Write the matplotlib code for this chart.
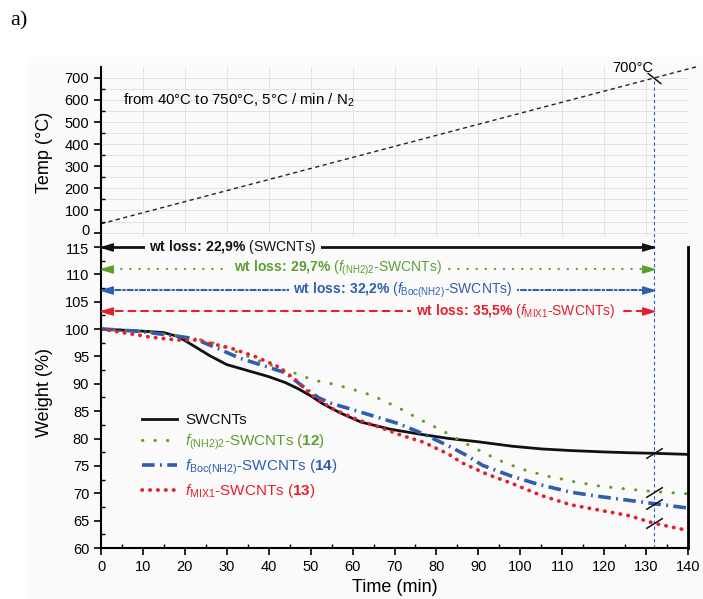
import numpy as np
import matplotlib
matplotlib.use("Agg")
from matplotlib import pyplot as plt
from matplotlib.path import Path
from matplotlib.ticker import MultipleLocator
from matplotlib.transforms import ScaledTranslation

plt.rcParams["font.family"] = "Liberation Sans"
plt.rcParams["mathtext.fontset"] = "custom"
plt.rcParams["mathtext.rm"] = "Liberation Sans"
plt.rcParams["mathtext.it"] = "Liberation Sans:italic"
plt.rcParams["mathtext.bf"] = "Liberation Sans:bold"

# temperature programme: 40 -> 750 °C at 5 °C/min
temp_time = [0, 142]
temp_val = [40, 750]
t_end = 132  # time at which 700 °C is reached

# TGA curves (time in min, weight in %)
t_sw = [0, 5, 10, 15, 18, 20, 23, 26, 30, 35, 40, 44, 47, 50, 53, 57, 62, 69,
        76, 83, 90, 98, 105, 112, 120, 126, 132, 140]
w_sw = [100, 99.8, 99.6, 99.35, 98.7, 97.9, 96.5, 95.1, 93.5, 92.4, 91.3, 90.2,
        89.1, 87.8, 86.3, 84.7, 83.0, 81.7, 80.8, 80.0, 79.4, 78.6, 78.1, 77.8,
        77.55, 77.4, 77.3, 77.1]

t_nh2 = [0, 5, 10, 15, 20, 24, 28, 33, 38, 43, 46, 51, 55, 59, 63, 66, 71, 76,
         81, 86, 90, 95, 100, 106, 113, 119, 125, 132, 140]
w_nh2 = [100, 99.8, 99.5, 99.1, 98.6, 98.0, 97.2, 95.6, 94.1, 92.7, 92.0, 90.6,
         90.0, 89.2, 88.3, 87.4, 85.6, 83.5, 81.6, 79.5, 77.9, 76.0, 74.5, 73.2,
         72.1, 71.3, 70.8, 70.3, 69.9]

t_boc = [0, 5, 10, 16, 20, 23, 28, 33, 40, 44, 48, 52, 55, 59, 65, 71, 77, 83,
         87, 91, 98, 104, 112, 119, 126, 132, 140]
w_boc = [100, 99.8, 99.5, 98.9, 98.5, 98.0, 96.4, 94.7, 93.0, 92.0, 89.6, 87.4,
         86.4, 85.5, 84.1, 82.7, 80.8, 78.6, 77.0, 75.1, 73.1, 71.7, 70.2, 69.4,
         68.7, 68.1, 67.3]

t_mix = [0, 4, 8, 12, 18, 23, 26, 31, 37, 42, 46, 50, 55, 61, 67, 72, 77, 83,
         86, 92, 98, 105, 112, 119, 126, 132, 140]
w_mix = [100, 99.5, 99.0, 98.5, 98.0, 98.0, 97.4, 96.5, 94.9, 93.2, 91.0, 88.1,
         85.5, 83.5, 81.9, 80.5, 79.3, 77.1, 75.6, 73.5, 71.8, 69.6, 67.9, 66.9,
         65.9, 64.5, 63.2]

# weight losses at 700 °C
losses = [22.9, 29.7, 32.2, 35.5]
names = ["SWCNTs",
         r"$\mathit{f}_{\mathrm{(NH2)2}}$-SWCNTs",
         r"$\mathit{f}_{\mathrm{Boc(NH2)}}$-SWCNTs",
         r"$\mathit{f}_{\mathrm{MIX1}}$-SWCNTs"]
compound_no = [None, "12", "14", "13"]

c_black = "#111111"
c_green = "#5e9e2c"
c_blue = "#2f5db0"
c_red = "#e4202c"
bg = "#fafafa"

fig = plt.figure(figsize=(7.03, 5.99), dpi=100)
fig.patches.append(plt.Rectangle((0.04, 0), 0.96, 0.905, transform=fig.transFigure,
                                 color=bg, zorder=-10))

L, W = 0.1437, 0.835
ax_t = fig.add_axes([L, 0.6043, W, 0.2838], facecolor=bg)
ax_w = fig.add_axes([L, 0.0851, W, 0.5192], facecolor=bg)

# ---- temperature panel ----
ax_t.plot(temp_time, temp_val, ls=(0, (3, 2.5)), lw=1, color="#222222", clip_on=False)
ax_t.set_xlim(0, 140)
ax_t.set_ylim(-20, 749)
ax_t.set_xticks(np.arange(0, 141, 10))
ax_t.yaxis.set_minor_locator(MultipleLocator(50))
ax_t.set_yticks(np.arange(0, 701, 100))
ax_t.grid(which="both", color="#e2e2e2", lw=0.7)
ax_t.set_axisbelow(True)
for s in ["top", "right", "bottom"]:
    ax_t.spines[s].set_visible(False)
ax_t.spines["left"].set_linewidth(1.5)
ax_t.tick_params(axis="x", bottom=False, labelbottom=False)
ax_t.tick_params(axis="y", which="major", direction="out", length=5, width=1.2, labelsize=10.5)
ax_t.tick_params(axis="y", which="minor", direction="in", length=3, width=1)
ax_t.set_ylabel("Temp (°C)", fontsize=13, labelpad=8)
ax_t.text(5.3, 600, r"from 40°C to 750°C, 5°C / min / N$_2$", fontsize=10.8, va="center")

temp_at_end = np.interp(t_end, temp_time, temp_val)
ax_t.plot([t_end, t_end], [-20, temp_at_end], ls=(0, (3, 2.5)), lw=0.8, color=c_blue)
back = Path([(-1, 0.8), (1, -0.8)], [Path.MOVETO, Path.LINETO])
ax_t.plot([t_end], [temp_at_end], marker=back, ms=10, mew=1.1, mec="#111111", clip_on=False)
ax_t.annotate(f"{temp_at_end:.0f}°C", (t_end, temp_at_end), xytext=(-16, 7),
              textcoords="offset points", ha="center", va="center", fontsize=10.5)

# ---- weight panel ----
styles = [
    dict(color=c_black, ls="-", lw=2),
    dict(color=c_green, ls=(0, (0.1, 4)), lw=2.2, dash_capstyle="round"),
    dict(color=c_blue, ls=(0, (3.5, 1.5, 0.5, 1.5)), lw=2.6),
    dict(color=c_red, ls=(0, (0.1, 2)), lw=2.7, dash_capstyle="round"),
]
series = [(t_sw, w_sw), (t_nh2, w_nh2), (t_boc, w_boc), (t_mix, w_mix)]
handles = []
for (t, w), st, nm, no in zip(series, styles, names, compound_no):
    label = nm if no is None else nm + r" ($\mathbf{" + no + "}$)"
    h, = ax_w.plot(t, w, label=label, **st)
    handles.append(h)

ax_w.set_xlim(0, 140)
ax_w.set_ylim(60, 116.8)
ax_w.xaxis.set_major_locator(MultipleLocator(10))
ax_w.xaxis.set_minor_locator(MultipleLocator(5))
ax_w.yaxis.set_minor_locator(MultipleLocator(2.5))
ax_w.set_yticks(np.arange(60, 116, 5))
ax_w.spines["top"].set_visible(False)
ax_w.spines["left"].set_linewidth(1.5)
ax_w.spines["bottom"].set_linewidth(1.5)
ax_w.spines["right"].set_linewidth(2)
ax_w.spines["right"].set_bounds(60, 115)
ax_w.tick_params(which="major", direction="out", length=5, width=1.2, labelsize=10.5, right=False)
ax_w.tick_params(which="minor", direction="in", length=3, width=1, right=False)
ax_w.set_ylabel("Weight (%)", fontsize=13, labelpad=8)
ax_w.set_xlabel("Time (min)", fontsize=13, labelpad=4)

# the two panels meet at 0 °C / 115 %, so nudge those labels apart a little
lbl0 = ax_t.yaxis.get_major_ticks()[0].label1
lbl0.set_transform(lbl0.get_transform() + ScaledTranslation(0, 2 / 72, fig.dpi_scale_trans))
lbl115 = ax_w.yaxis.get_major_ticks()[-1].label1
lbl115.set_transform(lbl115.get_transform() + ScaledTranslation(0, -1 / 72, fig.dpi_scale_trans))

# end-of-programme marker line and break marks on each curve
ax_w.plot([t_end, t_end], [60, 116.8], ls=(0, (3, 2.5)), lw=0.8, color=c_blue, clip_on=False)
slash = Path([(-1, -0.62), (1, 0.62)], [Path.MOVETO, Path.LINETO])
for t, w in series:
    ax_w.plot([t_end], [np.interp(t_end, t, w)], marker=slash, ms=12, mew=1.1,
              mec="#111111", zorder=5)

# weight-loss arrows
arrow_y = [114.9, 111.0, 107.1, 103.3]
text_x = [31.4, 56.4, 72.0, 98.8]
arrow_ls = ["-", (0, (0.1, 4)), (0, (2.5, 1.3, 0.8, 1.3)), (0, (3.3, 2.8))]
arrow_lw = [2, 1.6, 1.5, 1.5]
colors = [c_black, c_green, c_blue, c_red]
tip_r = Path([(0, 0), (-1, 0.3), (-1, -0.3), (0, 0)],
             [Path.MOVETO, Path.LINETO, Path.LINETO, Path.CLOSEPOLY])
tip_l = Path([(0, 0), (1, 0.3), (1, -0.3), (0, 0)],
             [Path.MOVETO, Path.LINETO, Path.LINETO, Path.CLOSEPOLY])
for y, x, ls, lw, c, loss, nm in zip(arrow_y, text_x, arrow_ls, arrow_lw, colors, losses, names):
    ax_w.plot([0.5, t_end - 0.5], [y, y], ls=ls, lw=lw, color=c,
              dash_capstyle="round", clip_on=False)
    ax_w.plot([0], [y], marker=tip_l, ms=17, color=c, mec=c, clip_on=False, zorder=4)
    ax_w.plot([t_end], [y], marker=tip_r, ms=17, color=c, mec=c, clip_on=False, zorder=4)
    pct = f"{loss:.1f}".replace(".", "{,}")
    txt = r"$\mathbf{wt\ loss\!:\!\ " + pct + r"\%}$ (" + nm + ")"
    ax_w.text(x, y, txt, color=c, fontsize=10, ha="center", va="center", zorder=6,
              bbox=dict(boxstyle="square,pad=0.3", fc=bg, ec="none"))

leg = ax_w.legend(handles=handles, loc="upper left", bbox_to_anchor=(0.07, 0.433),
                  frameon=False, fontsize=11, handlelength=2.3, handletextpad=0.5,
                  labelspacing=0.35, borderpad=0, borderaxespad=0)
for txt, c in zip(leg.get_texts(), colors):
    txt.set_color(c)

fig.text(0.014, 0.965, "a)", family="Liberation Serif", fontsize=16, va="center")

fig.savefig("out.png", dpi=100, facecolor="white")
